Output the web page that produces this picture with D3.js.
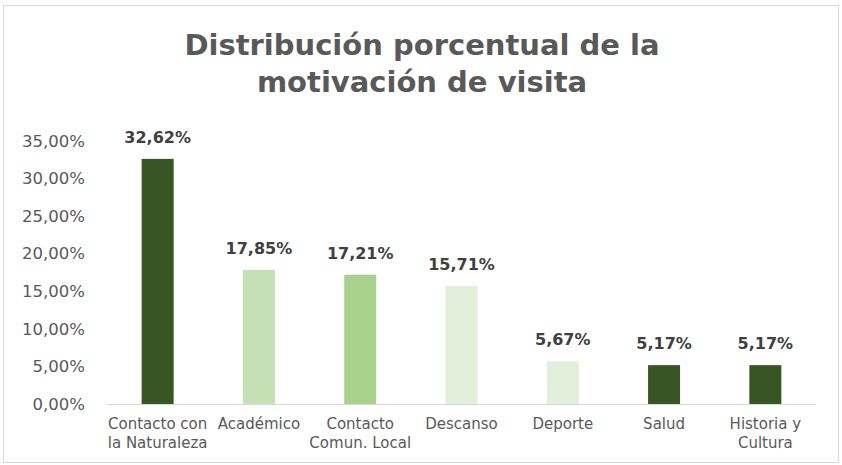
<!DOCTYPE html>
<html><head><meta charset="utf-8">
<script src="https://cdn.jsdelivr.net/npm/d3@7"></script>
<style>body{margin:0;background:#fff;font-family:"DejaVu Sans",Verdana,sans-serif;}</style>
</head><body>
<svg id="c" width="842" height="465"></svg>
<script>
const categories = [["Contacto con","la Naturaleza"],["Académico"],["Contacto","Comun. Local"],["Descanso"],["Deporte"],["Salud"],["Historia y","Cultura"]];
const values = [32.62, 17.85, 17.21, 15.71, 5.67, 5.17, 5.17];
const colors = ["#375623","#C5E0B4","#A9D18E","#E2EFDA","#E2EFDA","#375623","#375623"];
const yTicks = [0,5,10,15,20,25,30,35];
const title = ["Distribución porcentual de la","motivación de visita"];

const svg = d3.select("#c");
svg.append("rect").attr("x",3.5).attr("y",5.5).attr("width",835).attr("height",457)
  .attr("fill","#fff").attr("stroke","#d9d9d9");

const x = d3.scaleBand().domain(d3.range(values.length)).range([107,816]).paddingInner(0.684).paddingOuter(0.342);
const y = d3.scaleLinear().domain([0,35]).range([404,141]);

const fmt = v => v.toFixed(2).replace(".",",")+"%";

svg.append("text").attr("x",421).attr("y",55).attr("text-anchor","middle")
  .attr("font-size",29).attr("font-weight","bold").attr("fill","#595959")
  .selectAll("tspan").data(title).join("tspan").attr("x",422).attr("dy",(d,i)=>i?37:0).text(d=>d);

const yAxis = svg.append("g").attr("transform","translate(85,0)")
  .call(d3.axisLeft(y).tickValues(yTicks).tickSize(0).tickPadding(0).tickFormat(fmt));
yAxis.select(".domain").remove();
yAxis.selectAll("text").attr("font-size",16.5).attr("fill","#595959").attr("font-family","DejaVu Sans, sans-serif");

svg.selectAll("rect.bar").data(values).join("rect").attr("class","bar")
  .attr("x",(d,i)=>x(i)).attr("width",x.bandwidth())
  .attr("y",d=>y(d)).attr("height",d=>y(0)-y(d)).attr("fill",(d,i)=>colors[i]);

svg.append("line").attr("x1",107).attr("x2",816).attr("y1",404.5).attr("y2",404.5).attr("stroke","#d9d9d9");

svg.selectAll("text.lbl").data(values).join("text").attr("class","lbl")
  .attr("x",(d,i)=>x(i)+x.bandwidth()/2).attr("y",d=>y(d)-16)
  .attr("text-anchor","middle").attr("font-size",16).attr("font-weight","bold").attr("fill","#404040")
  .text(fmt);

const cat = svg.selectAll("text.cat").data(categories).join("text").attr("class","cat")
  .attr("text-anchor","middle").attr("font-size",15).attr("fill","#595959")
  .attr("transform",(d,i)=>`translate(${x(i)+x.bandwidth()/2},429)`);
cat.selectAll("tspan").data(d=>d).join("tspan").attr("x",0).attr("dy",(d,i)=>i?19:0).text(d=>d);
</script>
</body></html>
